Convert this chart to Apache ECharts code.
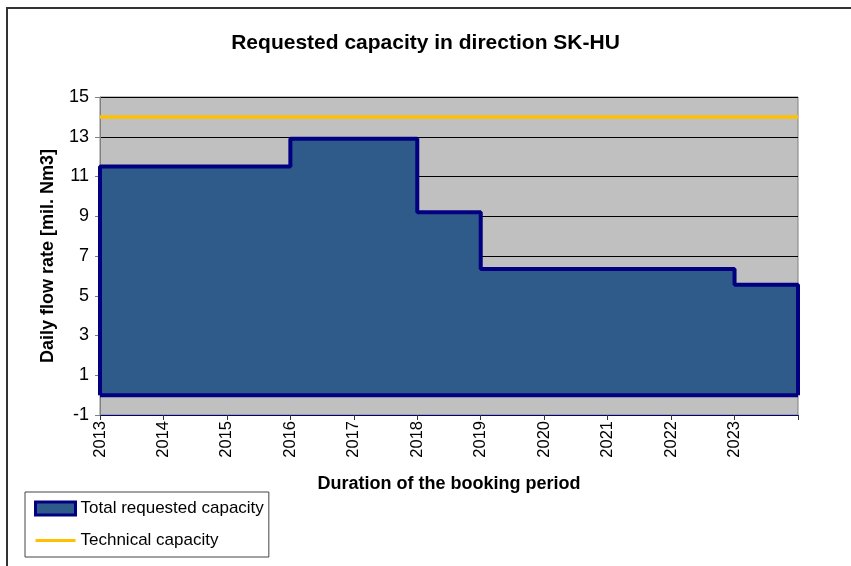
<!DOCTYPE html>
<html>
<head>
<meta charset="utf-8">
<script src="https://cdn.jsdelivr.net/npm/echarts@6/dist/echarts.min.js"></script>
<style>
html,body{margin:0;padding:0;background:#fff;}
#c{width:851px;height:566px;}
</style>
</head>
<body>
<div id="c"></div>
<script>
// Data
var stepYears = [2013, 2016, 2018, 2019, 2023, 2024];
var requested = [11.5, 12.9, 9.2, 6.35, 5.55];
var technical = 14;
var xStart = 2013, xEnd = 2024;
var yTicks = [-1, 1, 3, 5, 7, 9, 11, 13, 15];

// Build step outline points (closed down to 0 at both ends)
var reqPoints = [[stepYears[0], 0]];
for (var i = 0; i < requested.length; i++) reqPoints.push([stepYears[i], requested[i]]);
reqPoints.push([stepYears[stepYears.length - 1], requested[requested.length - 1]]);
reqPoints.push([stepYears[stepYears.length - 1], 0]);

var FONT = 'Liberation Sans, Arial, sans-serif';
var chart = echarts.init(document.getElementById('c'), null, {renderer: 'canvas'});
chart.setOption({
  animation: false,
  backgroundColor: '#fff',
  textStyle: {fontFamily: FONT},
  graphic: [{
    type: 'polyline', silent: true,
    shape: {points: [[7, 570], [7, 8], [855, 8]]},
    style: {stroke: '#333', lineWidth: 2, fill: null}
  }],
  title: {
    text: 'Requested capacity in direction SK-HU',
    left: 'center', top: 28,
    textStyle: {fontFamily: FONT, fontSize: 21, fontWeight: 'bold', color: '#000'}
  },
  legend: {
    orient: 'vertical', left: 25, top: 492,
    padding: [8, 5, 8, 9], itemGap: 15,
    itemWidth: 40, itemHeight: 13,
    borderColor: '#444', borderWidth: 1,
    textStyle: {fontFamily: FONT, fontSize: 17, color: '#000'},
    data: [
      {name: 'Total requested capacity', icon: 'rect',
        itemStyle: {color: '#2F5B8A', borderColor: '#000080', borderWidth: 3}},
      {name: 'Technical capacity', icon: 'path://M0,5 L40,5 L40,8 L0,8 Z',
        itemStyle: {color: '#FFC000'}}
    ]
  },
  grid: {
    left: 100, top: 97, width: 698, height: 318,
    show: true, backgroundColor: '#C0C0C0', borderColor: '#808080', borderWidth: 1
  },
  xAxis: [{
    type: 'value', min: xStart, max: xEnd, interval: 1,
    name: 'Duration of the booking period', nameLocation: 'middle', nameGap: 60,
    nameTextStyle: {fontFamily: FONT, fontSize: 18, fontWeight: 'bold', color: '#000'},
    axisLine: {show: false}, axisTick: {show: false}, splitLine: {show: false},
    axisLabel: {
      rotate: 90, margin: 6, fontFamily: FONT, fontSize: 16.5, color: '#000',
      formatter: function (v) { return v >= xEnd ? '' : String(v); }
    }
  }, {
    type: 'value', min: xStart, max: xEnd, interval: 1, position: 'bottom',
    axisLine: {show: true, onZero: true, lineStyle: {color: '#000080', width: 1}},
    axisTick: {show: true, length: 5, lineStyle: {color: '#333'}},
    axisLabel: {show: false}, splitLine: {show: false}
  }],
  yAxis: {
    type: 'value', min: yTicks[0], max: yTicks[yTicks.length - 1], interval: 2,
    name: 'Daily flow rate [mil. Nm3]', nameLocation: 'middle', nameGap: 43,
    nameTextStyle: {fontFamily: FONT, fontSize: 18, fontWeight: 'bold', color: '#000'},
    axisLine: {show: true, lineStyle: {color: '#808080'}},
    axisTick: {show: true, length: 5, lineStyle: {color: '#808080'}},
    axisLabel: {margin: 11, fontFamily: FONT, fontSize: 18, color: '#000'},
    splitLine: {show: true, lineStyle: {color: '#000', width: 1}}
  },
  series: [{
    name: 'Total requested capacity', type: 'line', step: 'end',
    data: reqPoints, showSymbol: false, symbol: 'none',
    lineStyle: {color: '#000080', width: 4},
    itemStyle: {color: '#2F5B8A'},
    areaStyle: {color: '#2F5B8A', opacity: 1, origin: 'auto'},
    z: 2
  }, {
    name: 'bottom', type: 'line', data: [[xStart, 0], [xEnd, 0]],
    symbol: 'none', lineStyle: {color: '#000080', width: 4}, z: 3
  }, {
    name: 'Technical capacity', type: 'line', data: [[xStart, technical], [xEnd, technical]],
    symbol: 'none', lineStyle: {color: '#FFC000', width: 3.5}, itemStyle: {color: '#FFC000'}, z: 4
  }]
});
</script>
</body>
</html>
